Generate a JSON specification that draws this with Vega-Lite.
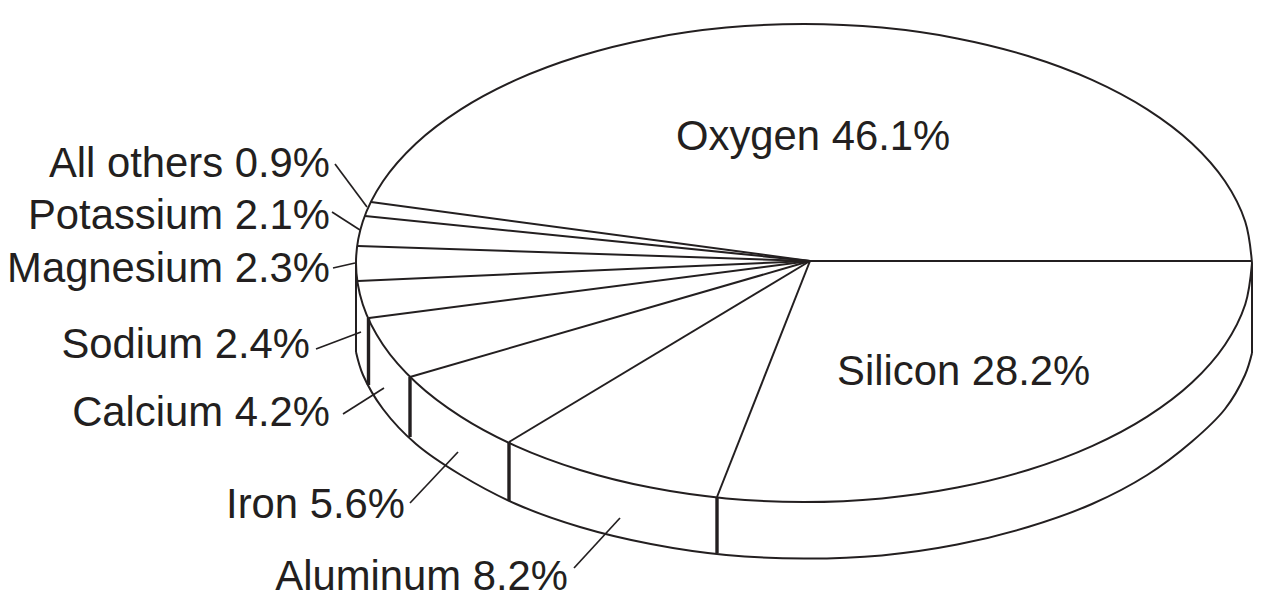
{
  "$schema": "https://vega.github.io/schema/vega-lite/v6.json",
  "width": 1268,
  "height": 600,
  "padding": 0,
  "autosize": {"type": "fit", "contains": "padding"},
  "background": "white",
  "config": {"view": {"stroke": null}},
  "datasets": {
    "curves": [
      {"part": "top", "i": 1, "x": 1252, "y": 263},
      {"part": "top", "i": 2, "x": 1245.2, "y": 304.5},
      {"part": "top", "i": 3, "x": 1225, "y": 344.7},
      {"part": "top", "i": 4, "x": 1192, "y": 382.5},
      {"part": "top", "i": 5, "x": 1147.2, "y": 416.6},
      {"part": "top", "i": 6, "x": 1092, "y": 446.1},
      {"part": "top", "i": 7, "x": 1028, "y": 470},
      {"part": "top", "i": 8, "x": 957.2, "y": 487.6},
      {"part": "top", "i": 9, "x": 881.8, "y": 498.4},
      {"part": "top", "i": 10, "x": 804, "y": 502},
      {"part": "top", "i": 11, "x": 726.2, "y": 498.4},
      {"part": "top", "i": 12, "x": 650.8, "y": 487.6},
      {"part": "top", "i": 13, "x": 580, "y": 470},
      {"part": "top", "i": 14, "x": 516, "y": 446.1},
      {"part": "top", "i": 15, "x": 460.8, "y": 416.6},
      {"part": "top", "i": 16, "x": 416, "y": 382.5},
      {"part": "top", "i": 17, "x": 383, "y": 344.7},
      {"part": "top", "i": 18, "x": 362.8, "y": 304.5},
      {"part": "top", "i": 19, "x": 356, "y": 263},
      {"part": "top", "i": 20, "x": 362.8, "y": 221.5},
      {"part": "top", "i": 21, "x": 383, "y": 181.3},
      {"part": "top", "i": 22, "x": 416, "y": 143.5},
      {"part": "top", "i": 23, "x": 460.8, "y": 109.4},
      {"part": "top", "i": 24, "x": 516, "y": 79.9},
      {"part": "top", "i": 25, "x": 580, "y": 56},
      {"part": "top", "i": 26, "x": 650.8, "y": 38.4},
      {"part": "top", "i": 27, "x": 726.2, "y": 27.6},
      {"part": "top", "i": 28, "x": 804, "y": 24},
      {"part": "top", "i": 29, "x": 881.8, "y": 27.6},
      {"part": "top", "i": 30, "x": 957.2, "y": 38.4},
      {"part": "top", "i": 31, "x": 1028, "y": 56},
      {"part": "top", "i": 32, "x": 1092, "y": 79.9},
      {"part": "top", "i": 33, "x": 1147.2, "y": 109.4},
      {"part": "top", "i": 34, "x": 1192, "y": 143.5},
      {"part": "top", "i": 35, "x": 1225, "y": 181.3},
      {"part": "top", "i": 36, "x": 1245.2, "y": 221.5},
      {"part": "top", "i": 37, "x": 1252, "y": 263},
      {"part": "bottom", "i": 1, "x": 1252, "y": 353},
      {"part": "bottom", "i": 2, "x": 1245, "y": 375},
      {"part": "bottom", "i": 3, "x": 1225, "y": 409},
      {"part": "bottom", "i": 4, "x": 1192, "y": 441.5},
      {"part": "bottom", "i": 5, "x": 1147.2, "y": 475},
      {"part": "bottom", "i": 6, "x": 1092, "y": 504},
      {"part": "bottom", "i": 7, "x": 1028, "y": 527},
      {"part": "bottom", "i": 8, "x": 957.2, "y": 544.6},
      {"part": "bottom", "i": 9, "x": 881.8, "y": 555.4},
      {"part": "bottom", "i": 10, "x": 804, "y": 558.5},
      {"part": "bottom", "i": 11, "x": 726.2, "y": 555},
      {"part": "bottom", "i": 12, "x": 650.8, "y": 544},
      {"part": "bottom", "i": 13, "x": 580, "y": 527},
      {"part": "bottom", "i": 14, "x": 516, "y": 504},
      {"part": "bottom", "i": 15, "x": 460.8, "y": 475},
      {"part": "bottom", "i": 16, "x": 416, "y": 444},
      {"part": "bottom", "i": 17, "x": 383, "y": 409},
      {"part": "bottom", "i": 18, "x": 363, "y": 375},
      {"part": "bottom", "i": 19, "x": 356, "y": 352}
    ],
    "edges": [
      {"part": "right", "x": 1252, "y": 263},
      {"part": "right", "x": 1252, "y": 353},
      {"part": "left", "x": 356, "y": 263},
      {"part": "left", "x": 356, "y": 352}
    ],
    "spokes": [
      {"part": "Silicon start", "x": 810, "y": 261}, {"part": "Silicon start", "x": 1252, "y": 261},
      {"part": "Aluminum start", "x": 810, "y": 261}, {"part": "Aluminum start", "x": 717, "y": 497},
      {"part": "Iron start", "x": 810, "y": 261}, {"part": "Iron start", "x": 509, "y": 442},
      {"part": "Calcium start", "x": 810, "y": 261}, {"part": "Calcium start", "x": 410, "y": 377},
      {"part": "Sodium start", "x": 810, "y": 261}, {"part": "Sodium start", "x": 369, "y": 318},
      {"part": "Magnesium start", "x": 810, "y": 261}, {"part": "Magnesium start", "x": 358, "y": 281},
      {"part": "Potassium start", "x": 810, "y": 261}, {"part": "Potassium start", "x": 358, "y": 246},
      {"part": "Others start", "x": 810, "y": 261}, {"part": "Others start", "x": 365, "y": 216},
      {"part": "Oxygen start", "x": 810, "y": 261}, {"part": "Oxygen start", "x": 371, "y": 202}
    ],
    "dividers": [
      {"part": "a", "x": 368.5, "y": 318}, {"part": "a", "x": 368.5, "y": 385},
      {"part": "b", "x": 410, "y": 377}, {"part": "b", "x": 410, "y": 437},
      {"part": "c", "x": 509, "y": 442}, {"part": "c", "x": 509, "y": 501},
      {"part": "d", "x": 717, "y": 497}, {"part": "d", "x": 717, "y": 553}
    ],
    "leaders": [
      {"part": "All others", "x": 335, "y": 164}, {"part": "All others", "x": 367, "y": 207},
      {"part": "Potassium", "x": 332, "y": 212}, {"part": "Potassium", "x": 360, "y": 230},
      {"part": "Magnesium", "x": 333, "y": 268}, {"part": "Magnesium", "x": 355, "y": 263},
      {"part": "Sodium", "x": 316, "y": 349}, {"part": "Sodium", "x": 361, "y": 332},
      {"part": "Calcium", "x": 343, "y": 414}, {"part": "Calcium", "x": 384, "y": 388},
      {"part": "Iron", "x": 410, "y": 503}, {"part": "Iron", "x": 458, "y": 452},
      {"part": "Aluminum", "x": 574, "y": 568}, {"part": "Aluminum", "x": 620, "y": 518}
    ],
    "sideLabels": [
      {"label": "All others 0.9%", "x": 330, "y": 177},
      {"label": "Potassium 2.1%", "x": 330, "y": 229},
      {"label": "Magnesium 2.3%", "x": 330, "y": 282},
      {"label": "Sodium 2.4%", "x": 310, "y": 358},
      {"label": "Calcium 4.2%", "x": 330, "y": 426},
      {"label": "Iron 5.6%", "x": 405, "y": 518},
      {"label": "Aluminum 8.2%", "x": 568, "y": 590}
    ],
    "innerLabels": [
      {"label": "Oxygen 46.1%", "x": 676, "y": 150},
      {"label": "Silicon 28.2%", "x": 837, "y": 385}
    ]
  },
  "encoding": {
    "x": {"field": "x", "type": "quantitative", "scale": {"domain": [0, 1268], "nice": false, "zero": false}, "axis": null},
    "y": {"field": "y", "type": "quantitative", "scale": {"domain": [600, 0], "nice": false, "zero": false}, "axis": null}
  },
  "layer": [
    {
      "data": {"name": "curves"},
      "mark": {"type": "line", "interpolate": "catmull-rom", "color": "#231f20", "strokeWidth": 2},
      "encoding": {
        "detail": {"field": "part"},
        "order": {"field": "i", "type": "quantitative"}
      }
    },
    {
      "data": {"name": "edges"},
      "mark": {"type": "line", "color": "#231f20", "strokeWidth": 2},
      "encoding": {"detail": {"field": "part"}}
    },
    {
      "data": {"name": "spokes"},
      "mark": {"type": "line", "color": "#231f20", "strokeWidth": 2},
      "encoding": {"detail": {"field": "part"}, "order": {"value": null}}
    },
    {
      "data": {"name": "dividers"},
      "mark": {"type": "line", "color": "#231f20", "strokeWidth": 3.4},
      "encoding": {"detail": {"field": "part"}}
    },
    {
      "data": {"name": "leaders"},
      "mark": {"type": "line", "color": "#231f20", "strokeWidth": 1.7},
      "encoding": {"detail": {"field": "part"}, "order": {"value": null}}
    },
    {
      "data": {"name": "sideLabels"},
      "mark": {"type": "text", "align": "right", "baseline": "alphabetic", "font": "Liberation Sans", "fontSize": 41.8, "color": "#231f20"},
      "encoding": {"text": {"field": "label"}}
    },
    {
      "data": {"name": "innerLabels"},
      "mark": {"type": "text", "align": "left", "baseline": "alphabetic", "font": "Liberation Sans", "fontSize": 41.8, "color": "#231f20"},
      "encoding": {"text": {"field": "label"}}
    }
  ]
}
